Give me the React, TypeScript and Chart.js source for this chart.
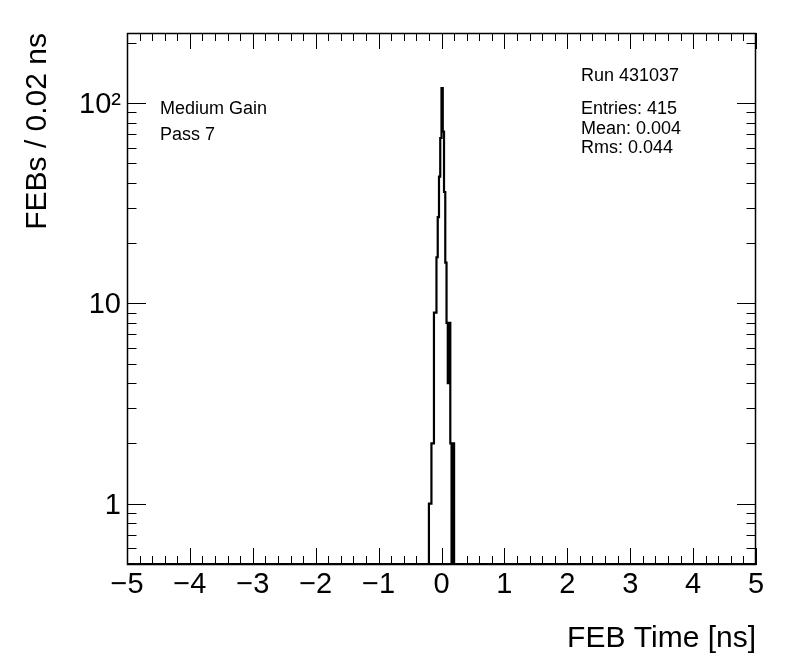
import React, { useEffect, useRef } from 'react';
import { Chart, registerables } from 'chart.js';

Chart.register(...registerables);

// ---- data ----
const binWidth = 0.02;
const binLowEdges = [
  -0.2, -0.18, -0.16, -0.14, -0.12, -0.1, -0.08, -0.06, -0.04, -0.02,
  0.0, 0.02, 0.04, 0.06, 0.08, 0.1, 0.12, 0.14, 0.16, 0.18,
];
const binCounts = [
  1, 1, 2, 2, 9, 9, 17, 27, 43, 67,
  119, 72, 36, 16, 8, 4, 8, 2, 0, 2,
];
const xMin = -5;
const xMax = 5;
const yMin = 0.5;
const yMax = 224;
const xTickValues = [-5, -4, -3, -2, -1, 0, 1, 2, 3, 4, 5];
const xTickLabels = ['\u22125', '\u22124', '\u22123', '\u22122', '\u22121', '0', '1', '2', '3', '4', '5'];
const yTickValues = [1, 10, 100];
const yTickLabels = ['1', '10', '10\u00B2'];
const xTitle = 'FEB Time [ns]';
const yTitle = 'FEBs / 0.02 ns';
const infoLines = ['Medium Gain', 'Pass 7'];
const runLine = 'Run 431037';
const statLines = ['Entries: 415', 'Mean: 0.004', 'Rms: 0.044'];

const FONT = '"Liberation Sans", Arial, Helvetica, sans-serif';

const framePlugin = {
  id: 'rootFrame',
  afterDatasetsDraw(chart: any) {
    const { ctx, chartArea, scales } = chart;
    const { left, right, top, bottom } = chartArea;
    const xs = scales.x;
    const ys = scales.y;
    ctx.save();
    ctx.strokeStyle = '#000';
    ctx.lineWidth = 1;
    ctx.beginPath();
    // x ticks (bottom + top), primary every 1, secondary every 0.2
    for (let i = 0; i <= 50; i++) {
      const v = xMin + i * 0.2;
      const major = i % 5 === 0;
      const len = major ? 16 : 8;
      const px = Math.round(xs.getPixelForValue(v)) + 0.5;
      ctx.moveTo(px, bottom);
      ctx.lineTo(px, bottom - len);
      ctx.moveTo(px, top);
      ctx.lineTo(px, top + len);
    }
    // y ticks (left + right), log
    for (let d = -1; d <= 2; d++) {
      for (let m = 1; m <= 9; m++) {
        const v = m * Math.pow(10, d);
        if (v < yMin - 1e-9 || v > yMax) continue;
        const len = m === 1 ? 19 : 9.5;
        const py = Math.round(ys.getPixelForValue(v)) + 0.5;
        ctx.moveTo(left, py);
        ctx.lineTo(left + len, py);
        ctx.moveTo(right, py);
        ctx.lineTo(right - len, py);
      }
    }
    ctx.stroke();
    // frame
    ctx.lineWidth = 1.5;
    ctx.strokeRect(left + 0.5, top + 0.5, right - left - 1, bottom - top);
    ctx.lineWidth = 2;
    ctx.beginPath();
    ctx.moveTo(left, bottom);
    ctx.lineTo(right + 1, bottom);
    ctx.stroke();

    // texts
    ctx.fillStyle = '#000';
    ctx.font = `18px ${FONT}`;
    ctx.textAlign = 'left';
    ctx.textBaseline = 'alphabetic';
    const infoY = [114, 140];
    infoLines.forEach((t, i) => ctx.fillText(t, 160, infoY[i]));
    ctx.fillText(runLine, 581, 81);
    const statY = [114, 133.5, 153];
    statLines.forEach((t, i) => ctx.fillText(t, 581, statY[i]));
    ctx.restore();
  },
};

export default function App() {
  const ref = useRef<HTMLCanvasElement | null>(null);
  useEffect(() => {
    if (!ref.current) return;
    const FLOOR = 0.05;
    const pts: { x: number; y: number }[] = [{ x: xMin, y: FLOOR }];
    binLowEdges.forEach((e, i) => {
      pts.push({ x: e, y: binCounts[i] > 0 ? binCounts[i] : FLOOR });
    });
    pts.push({ x: binLowEdges[binLowEdges.length - 1] + binWidth, y: FLOOR });
    pts.push({ x: xMax, y: FLOOR });

    const chart = new Chart(ref.current, {
      type: 'line',
      data: {
        datasets: [
          {
            data: pts,
            stepped: 'before',
            borderColor: '#000',
            borderWidth: 2.2,
            pointRadius: 0,
            fill: false,
            tension: 0,
            borderCapStyle: 'butt',
            borderJoinStyle: 'miter',
          } as any,
        ],
      },
      options: {
        animation: false,
        responsive: false,
        events: [],
        layout: { padding: { top: 33, right: 40, left: 0, bottom: 0 } },
        plugins: { legend: { display: false }, tooltip: { enabled: false } },
        scales: {
          x: {
            type: 'linear',
            min: xMin,
            max: xMax,
            grid: { display: false, drawTicks: false },
            border: { display: false },
            afterBuildTicks: (s: any) => {
              s.ticks = xTickValues.map((v) => ({ value: v }));
            },
            afterFit: (s: any) => {
              s.height = 108;
            },
            ticks: {
              autoSkip: false,
              maxRotation: 0,
              padding: 4,
              color: '#000',
              font: { family: FONT, size: 29 },
              callback: (v: any) => {
                const i = xTickValues.indexOf(Number(v));
                return i >= 0 ? xTickLabels[i] : '';
              },
            },
            title: {
              display: true,
              text: xTitle,
              align: 'end',
              color: '#000',
              font: { family: FONT, size: 30 },
              padding: { top: 0, bottom: 15 },
            },
          },
          y: {
            type: 'logarithmic',
            min: yMin,
            max: yMax,
            grid: { display: false, drawTicks: false },
            border: { display: false },
            afterBuildTicks: (s: any) => {
              s.ticks = yTickValues.map((v) => ({ value: v }));
            },
            afterFit: (s: any) => {
              s.width = 127;
            },
            ticks: {
              autoSkip: false,
              padding: 6,
              labelOffset: 2,
              color: '#000',
              font: { family: FONT, size: 29 },
              callback: (v: any) => {
                const i = yTickValues.indexOf(Number(v));
                return i >= 0 ? yTickLabels[i] : '';
              },
            },
            title: {
              display: true,
              text: yTitle,
              align: 'end',
              color: '#000',
              font: { family: FONT, size: 30 },
              padding: { top: 20, bottom: 0 },
            },
          },
        },
      } as any,
      plugins: [framePlugin],
    });
    return () => chart.destroy();
  }, []);

  return (
    <div style={{ position: 'fixed', left: 0, top: 0, width: 796, height: 672, background: '#fff' }}>
      <canvas ref={ref} width={796} height={672} style={{ display: 'block' }} />
    </div>
  );
}
